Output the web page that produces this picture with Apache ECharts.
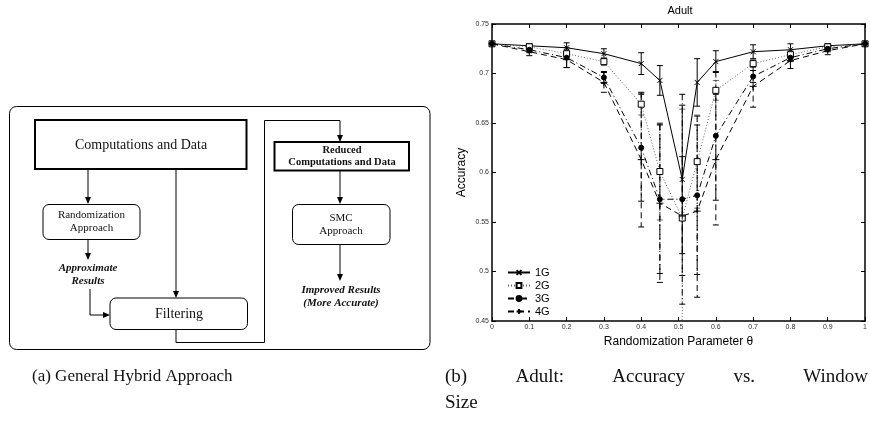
<!DOCTYPE html>
<html>
<head>
<meta charset="utf-8">
<script src="https://cdn.jsdelivr.net/npm/echarts@6/dist/echarts.min.js"></script>
<style>
  html, body { margin: 0; padding: 0; background: #fff; }
  #chart { width: 870px; height: 425px; }
</style>
</head>
<body>
<div id="chart"></div>
<script>
// randomization parameter (x positions)
var thetas = [0, 0.1, 0.2, 0.3, 0.4, 0.45, 0.51, 0.55, 0.6, 0.7, 0.8, 0.9, 1];
// accuracy per window size
var acc1G = [0.730, 0.728, 0.726, 0.720, 0.710, 0.693, 0.593, 0.691, 0.712, 0.722, 0.724, 0.728, 0.730];
var acc2G = [0.730, 0.727, 0.720, 0.712, 0.669, 0.601, 0.554, 0.611, 0.683, 0.710, 0.719, 0.727, 0.730];
var acc3G = [0.730, 0.724, 0.716, 0.696, 0.625, 0.573, 0.573, 0.577, 0.637, 0.697, 0.716, 0.725, 0.730];
var acc4G = [0.730, 0.722, 0.714, 0.691, 0.613, 0.569, 0.556, 0.561, 0.613, 0.687, 0.713, 0.723, 0.730];
// error bar half-widths
var err1G = [0, 0.002, 0.005, 0.005, 0.011, 0.015, 0.075, 0.024, 0.011, 0.007, 0.006, 0.002, 0];
var err2G = [0, 0.002, 0.004, 0.004, 0.011, 0.049, 0.11, 0.047, 0.01, 0.004, 0.004, 0.002, 0];
var err3G = [0, 0.003, 0.010, 0.006, 0.054, 0.075, 0.106, 0.080, 0.065, 0.006, 0.004, 0.003, 0];
var err4G = [0, 0.004, 0.008, 0.010, 0.068, 0.080, 0.060, 0.087, 0.066, 0.021, 0.008, 0.004, 0];
var seriesNames = ["1G", "2G", "3G", "4G"];

var chart = echarts.init(document.getElementById("chart"));

var serif = "'Liberation Serif', 'Times New Roman', serif";
var sans = "'Liberation Sans', Arial, sans-serif";

function pairs(ys, es) {
  return thetas.map(function (x, i) {
    return es ? [x, ys[i], es[i]] : [x, ys[i]];
  });
}

// styles of each curve
var looks = [
  { dash: "solid", color: "#000", symbol: "path://M0,0L10,10M0,10L10,0", size: 5, fill: "#000" },
  { dash: [1, 2], color: "#666", symbol: "rect", size: 6, fill: "#fff" },
  { dash: [6, 3, 1, 3], color: "#000", symbol: "circle", size: 5, fill: "#000" },
  { dash: [6, 4], color: "#000", symbol: "path://M5,0L5,10M0,5L10,5", size: 7, fill: "#000" },
];
var accs = [acc1G, acc2G, acc3G, acc4G];
var errs = [err1G, err2G, err3G, err4G];

var series = [];
seriesNames.forEach(function (name, k) {
  var lk = looks[k];
  series.push({
    name: name,
    type: "line",
    data: pairs(accs[k]),
    symbol: lk.symbol,
    symbolSize: lk.size,
    showAllSymbol: true,
    z: 3,
    lineStyle: { color: lk.color, width: 1, type: lk.dash },
    itemStyle: { color: lk.fill, borderColor: "#000", borderWidth: 1 },
    emphasis: { disabled: true },
  });
  // error bars
  series.push({
    name: name + " err",
    type: "custom",
    clip: true,
    silent: true,
    z: 2,
    data: pairs(accs[k], errs[k]),
    renderItem: function (params, api) {
      var e = api.value(2);
      if (!e) return null;
      var x = api.value(0), y = api.value(1);
      var top = api.coord([x, y + e]);
      var bot = api.coord([x, y - e]);
      var st = { stroke: lk.color, lineWidth: 1, lineDash: lk.dash === "solid" ? null : lk.dash };
      var cap = { stroke: lk.color, lineWidth: 1 };
      return {
        type: "group",
        children: [
          { type: "line", shape: { x1: top[0], y1: top[1], x2: bot[0], y2: bot[1] }, style: st },
          { type: "line", shape: { x1: top[0] - 3, y1: top[1], x2: top[0] + 3, y2: top[1] }, style: cap },
          { type: "line", shape: { x1: bot[0] - 3, y1: bot[1], x2: bot[0] + 3, y2: bot[1] }, style: cap },
        ],
      };
    },
  });
});

// flowchart helpers (left panel)
function box(x1, y1, x2, y2, r, w) {
  return {
    type: "rect",
    shape: { x: x1, y: y1, width: x2 - x1, height: y2 - y1, r: r },
    style: { fill: "#fff", stroke: "#000", lineWidth: w },
  };
}
function label(x, y, txt, size, weight, style) {
  return {
    type: "text",
    x: x,
    y: y,
    style: {
      text: txt,
      fontFamily: serif,
      fontSize: size,
      fontWeight: weight || "normal",
      fontStyle: style || "normal",
      fill: "#111",
      align: "center",
      verticalAlign: "middle",
      lineHeight: size + 2,
    },
  };
}
function arrow(pts) {
  var n = pts.length;
  var a = pts[n - 2], b = pts[n - 1];
  var dx = b[0] - a[0], dy = b[1] - a[1];
  var len = Math.sqrt(dx * dx + dy * dy);
  var ux = dx / len, uy = dy / len;
  var hl = 7, hw = 3;
  var base = [b[0] - ux * hl, b[1] - uy * hl];
  var line = pts.slice(0, n - 1).concat([base]);
  return [
    { type: "polyline", shape: { points: line }, style: { stroke: "#000", lineWidth: 1, fill: null } },
    {
      type: "polygon",
      shape: { points: [b, [base[0] - uy * hw, base[1] + ux * hw], [base[0] + uy * hw, base[1] - ux * hw]] },
      style: { fill: "#000" },
    },
  ];
}

var flow = [];
flow.push(box(9.5, 106.5, 430, 349.5, 7, 1));
flow = flow.concat(arrow([[88, 169], [88, 204]]));
flow = flow.concat(arrow([[88, 239], [88, 260]]));
flow = flow.concat(arrow([[176, 169], [176, 298]]));
flow = flow.concat(arrow([[90, 289], [90, 315], [110, 315]]));
flow = flow.concat(arrow([[176, 329], [176, 342.5], [264.5, 342.5], [264.5, 120.5], [340, 120.5], [340, 142]]));
flow = flow.concat(arrow([[340, 171], [340, 204]]));
flow = flow.concat(arrow([[340, 244], [340, 281]]));
flow.push(box(35, 120, 246.5, 169, 0, 2));
flow.push(box(43, 204.5, 140, 239.5, 6, 1));
flow.push(box(110, 298, 247.5, 329.5, 6, 1));
flow.push(box(274.5, 142, 409, 170.5, 0, 2));
flow.push(box(292.5, 204.5, 390, 244.5, 6, 1));
flow.push(label(141, 145, "Computations and Data", 14));
flow.push(label(91.5, 222, "Randomization\nApproach", 11));
flow.push(label(88, 275, "Approximate\nResults", 11, "bold", "italic"));
flow.push(label(179, 314, "Filtering", 14));
flow.push(label(342, 156.5, "Reduced\nComputations and Data", 10.5, "bold"));
flow.push(label(341, 224.5, "SMC\nApproach", 11));
flow.push(label(341, 297, "Improved Results\n(More Accurate)", 11, "bold", "italic"));

// captions: (b) is justified across the right column
function capText(x, y, txt, font) {
  return {
    type: "text", x: x, y: y,
    style: { text: txt, font: font, fill: "#111", align: "left", verticalAlign: "middle" },
  };
}
flow.push(capText(32, 377, "(a) General Hybrid Approach", "17px " + serif));
var capFontB = "19px " + serif;
var capWords = ["(b)", "Adult:", "Accuracy", "vs.", "Window"];
var ctx = document.createElement("canvas").getContext("2d");
ctx.font = capFontB;
var widths = capWords.map(function (w) { return ctx.measureText(w).width; });
var totalW = widths.reduce(function (a, b) { return a + b; }, 0);
var gap = (868 - 445 - totalW) / (capWords.length - 1);
var cx = 445;
capWords.forEach(function (w, i) {
  flow.push(capText(cx, 377, w, capFontB));
  cx += widths[i] + gap;
});
flow.push(capText(445, 403, "Size", capFontB));
flow.push({
  type: "text", x: 680, y: 11,
  style: { text: "Adult", fontFamily: sans, fontSize: 11, fill: "#000", align: "center", verticalAlign: "middle" },
});

var tickStyle = { show: true, inside: true, length: 4, lineStyle: { color: "#000", width: 1 } };
var lineStyleAxis = { show: true, onZero: false, lineStyle: { color: "#000", width: 1.5 } };

var option = {
  animation: false,
  backgroundColor: "#fff",
  graphic: flow,
  grid: { left: 492, top: 24, width: 377, height: 297, containLabel: false },
  legend: {
    orient: "vertical",
    left: 502,
    top: 262,
    itemWidth: 22,
    itemHeight: 6,
    itemGap: 2,
    data: seriesNames,
    textStyle: { fontFamily: sans, fontSize: 11, color: "#000" },
  },
  xAxis: [
    {
      type: "value",
      min: 0,
      max: 1,
      interval: 0.1,
      position: "bottom",
      name: "Randomization Parameter θ",
      nameLocation: "middle",
      nameGap: 15,
      nameTextStyle: { fontFamily: sans, fontSize: 12, color: "#000" },
      axisLine: lineStyleAxis,
      axisTick: tickStyle,
      splitLine: { show: false },
      axisLabel: {
        fontFamily: sans, fontSize: 7, color: "#333", margin: 3,
        formatter: function (v) { return String(Math.round(v * 10) / 10); },
      },
    },
    {
      type: "value", min: 0, max: 1, interval: 0.1, position: "top",
      axisLine: lineStyleAxis, axisTick: tickStyle, axisLabel: { show: false }, splitLine: { show: false },
    },
  ],
  yAxis: [
    {
      type: "value",
      min: 0.45,
      max: 0.75,
      interval: 0.05,
      name: "Accuracy",
      nameLocation: "middle",
      nameRotate: 90,
      nameGap: 24,
      nameTextStyle: { fontFamily: sans, fontSize: 12, color: "#000" },
      axisLine: lineStyleAxis,
      axisTick: tickStyle,
      splitLine: { show: false },
      axisLabel: {
        fontFamily: sans, fontSize: 7, color: "#333", margin: 3,
        formatter: function (v) { return String(Math.round(v * 100) / 100); },
      },
    },
    {
      type: "value", min: 0.45, max: 0.75, interval: 0.05, position: "right",
      axisLine: lineStyleAxis, axisTick: tickStyle, axisLabel: { show: false }, splitLine: { show: false },
    },
  ],
  series: series,
};
chart.setOption(option);
</script>
</body>
</html>
